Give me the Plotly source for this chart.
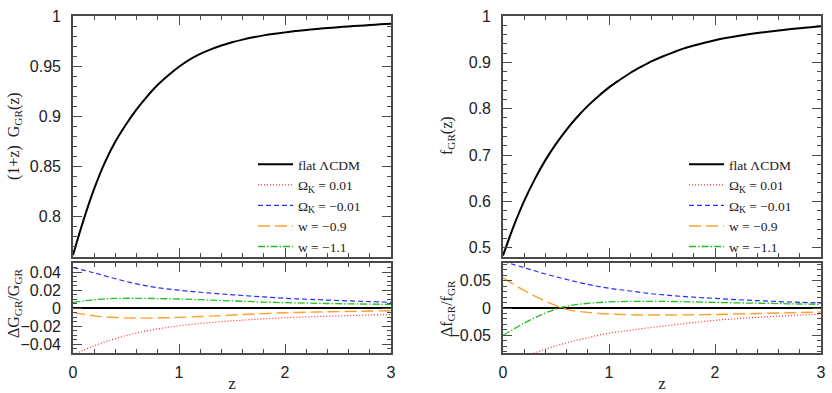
import plotly.graph_objects as go

# ---------------- data ----------------
z_main = [0.0, 0.1, 0.2, 0.3, 0.4, 0.5, 0.6, 0.7, 0.8, 0.9, 1.0, 1.1, 1.2, 1.3, 1.4,
          1.5, 1.6, 1.7, 1.8, 1.9, 2.0, 2.1, 2.2, 2.3, 2.4, 2.5, 2.6, 2.7, 2.8, 2.9, 3.0]
G_flat = [0.762, 0.797, 0.828, 0.854, 0.875, 0.892, 0.907, 0.920, 0.9315, 0.941, 0.9495,
          0.9565, 0.9622, 0.9668, 0.9706, 0.9738, 0.9765, 0.9788, 0.9807, 0.9823, 0.9837,
          0.985, 0.9861, 0.9871, 0.988, 0.9888, 0.9896, 0.9903, 0.991, 0.9917, 0.9924]
f_flat = [0.483, 0.546, 0.601, 0.648, 0.689, 0.724, 0.755, 0.782, 0.806, 0.827, 0.846,
          0.862, 0.877, 0.890, 0.902, 0.912, 0.921, 0.9295, 0.9362, 0.9423, 0.9478,
          0.9525, 0.9565, 0.960, 0.9632, 0.9661, 0.9688, 0.9713, 0.9736, 0.9758, 0.9779]

z_delta = [0.0, 0.2, 0.4, 0.6, 0.8, 1.0, 1.2, 1.4, 1.6, 1.8, 2.0, 2.2, 2.4, 2.6, 2.8, 3.0]
dG_flat = [0.0] * 16
dG_ok_p = [-0.052, -0.0420, -0.0340, -0.0278, -0.0232, -0.0198, -0.0172, -0.0151,
           -0.0135, -0.0121, -0.0108, -0.0099, -0.0091, -0.0084, -0.0078, -0.0072]
dG_ok_m = [0.045, 0.039, 0.0325, 0.0268, 0.0225, 0.0198, 0.0175, 0.0156, 0.0139,
           0.0123, 0.0108, 0.0097, 0.0088, 0.0079, 0.0071, 0.0063]
dG_w09 = [-0.0048, -0.0087, -0.0106, -0.0112, -0.0111, -0.0104, -0.0095, -0.0084,
          -0.0073, -0.0062, -0.0053, -0.0047, -0.0042, -0.0038, -0.0034, -0.0030]
dG_w11 = [0.0060, 0.0093, 0.0106, 0.0108, 0.0105, 0.0100, 0.0092, 0.0083, 0.0075,
          0.0066, 0.0059, 0.0054, 0.0050, 0.0046, 0.0043, 0.0040]

df_flat = [0.0] * 16
df_ok_p = [-0.105, -0.089, -0.075, -0.0635, -0.054, -0.046, -0.0405, -0.0355, -0.031,
           -0.0265, -0.0225, -0.0195, -0.017, -0.0148, -0.0129, -0.0112]
df_ok_m = [0.085, 0.0735, 0.062, 0.052, 0.043, 0.036, 0.031, 0.026, 0.0225, 0.0197,
           0.0175, 0.0153, 0.0134, 0.0117, 0.0103, 0.009]
df_w09 = [0.055, 0.032, 0.0125, -0.0025, -0.008, -0.011, -0.0123, -0.0128, -0.0127,
          -0.0124, -0.0118, -0.0109, -0.0100, -0.0091, -0.0082, -0.0073]
df_w11 = [-0.050, -0.0275, -0.009, 0.0035, 0.0085, 0.011, 0.0121, 0.0122, 0.0118,
          0.0111, 0.0102, 0.0094, 0.0087, 0.0080, 0.0073, 0.0067]

labels = ["flat \u039bCDM", "\u03a9<sub>K</sub> = 0.01", "\u03a9<sub>K</sub> = \u22120.01",
          "w = \u22120.9", "w = \u22121.1"]
colors = ["#000000", "#ff2a2a", "#2a2aff", "#ffa030", "#1fc01f"]
dashes = ["solid", "1px,2px", "5px,3px", "12px,5px", "7px,2px,1.5px,2px"]
widths = [2.0, 1.2, 1.2, 1.4, 1.3]

SERIF = "Liberation Serif"
SANS = "Liberation Sans"

fig = go.Figure()

left_dn = [dG_flat, dG_ok_p, dG_ok_m, dG_w09, dG_w11]
right_dn = [df_flat, df_ok_p, df_ok_m, df_w09, df_w11]

# lower panels (also carry legend entries for the variant models)
for i in range(5):
    fig.add_trace(go.Scatter(
        x=z_delta, y=left_dn[i], mode="lines", name=labels[i],
        line=dict(color=colors[i], width=widths[i], dash=dashes[i], shape="spline"),
        xaxis="x", yaxis="y", legend="legend", showlegend=(i > 0),
        legendrank=1 + i))
    fig.add_trace(go.Scatter(
        x=z_delta, y=right_dn[i], mode="lines", name=labels[i],
        line=dict(color=colors[i], width=widths[i], dash=dashes[i], shape="spline"),
        xaxis="x3", yaxis="y3", legend="legend2", showlegend=(i > 0),
        legendrank=1 + i))

# upper panels: flat LCDM curves
fig.add_trace(go.Scatter(
    x=z_main, y=G_flat, mode="lines", name=labels[0],
    line=dict(color=colors[0], width=widths[0], shape="spline"),
    xaxis="x2", yaxis="y2", legend="legend", legendrank=0))
fig.add_trace(go.Scatter(
    x=z_main, y=f_flat, mode="lines", name=labels[0],
    line=dict(color=colors[0], width=widths[0], shape="spline"),
    xaxis="x4", yaxis="y4", legend="legend2", legendrank=0))

W, H = 832, 393
xl = [73 / W, 391 / W]
xr = [503 / W, 821 / W]
yu = [1 - 257 / H, 1 - 16 / H]
yd = [1 - 353 / H, 1 - 263 / H]

AX = "#4a4a4a"
tickfont = dict(family=SANS, size=16, color="#222")


def xax(domain, anchor, labels_on):
    d = dict(domain=domain, anchor=anchor, range=[0, 3], dtick=1, tick0=0,
             ticks="inside", ticklen=9, tickwidth=1.3, tickcolor=AX,
             mirror="allticks", showline=True, linecolor=AX, linewidth=1.6,
             showgrid=False, zeroline=False, showticklabels=labels_on,
             tickfont=tickfont, ticklabelstandoff=4, automargin=False,
             minor=dict(dtick=0.2, ticks="inside", ticklen=4.5, tickwidth=1,
                        tickcolor=AX, showgrid=False))
    if labels_on:
        d["title"] = dict(text="z", font=dict(family=SERIF, size=17, color="#222"),
                          standoff=6)
    return d


def yax(domain, anchor, rng, dtick, mdtick):
    return dict(domain=domain, anchor=anchor, range=rng, dtick=dtick, tick0=0,
                ticks="inside", ticklen=9, tickwidth=1.3, tickcolor=AX,
                mirror="allticks", showline=True, linecolor=AX, linewidth=1.6,
                showgrid=False, zeroline=False, tickfont=tickfont,
                ticklabelstandoff=7, automargin=False,
                minor=dict(dtick=mdtick, ticks="inside", ticklen=4.5, tickwidth=1,
                           tickcolor=AX, showgrid=False))


fig.update_layout(
    width=W, height=H, autosize=False,
    margin=dict(l=0, r=0, t=0, b=0, pad=0, autoexpand=False),
    paper_bgcolor="white", plot_bgcolor="white",
    xaxis=xax(xl, "y", True),
    yaxis=yax(yd, "x", [-0.05, 0.05], 0.02, 0.005),
    xaxis2=xax(xl, "y2", False),
    yaxis2=yax(yu, "x2", [0.76, 1.0], 0.05, 0.01),
    xaxis3=xax(xr, "y3", True),
    yaxis3=yax(yd, "x3", [-0.082, 0.082], 0.05, 0.01),
    xaxis4=xax(xr, "y4", False),
    yaxis4=yax(yu, "x4", [0.48, 1.0], 0.1, 0.02),
    legend=dict(x=253 / W, y=1 - 149 / H, xanchor="left", yanchor="top",
                bgcolor="rgba(0,0,0,0)", itemwidth=35,
                font=dict(family=SERIF, size=13.5, color="#222")),
    legend2=dict(x=684 / W, y=1 - 149 / H, xanchor="left", yanchor="top",
                 bgcolor="rgba(0,0,0,0)", itemwidth=35,
                 font=dict(family=SERIF, size=13.5, color="#222")),
    showlegend=True,
)

ytitle_font = dict(family=SERIF, size=16, color="#222")
for txt, x, y in [
    ("(1+z)  G<sub>GR</sub>(z)", 14, 136),
    ("\u0394G<sub>GR</sub>/G<sub>GR</sub>", 14, 304),
    ("f<sub>GR</sub>(z)", 447, 136),
    ("\u0394f<sub>GR</sub>/f<sub>GR</sub>", 447, 309),
]:
    fig.add_annotation(text=txt, x=x / W, y=1 - y / H, xref="paper", yref="paper",
                       showarrow=False, textangle=-90, font=ytitle_font,
                       xanchor="center", yanchor="middle")

fig.write_html("out.html",
               config={"displayModeBar": False, "responsive": False},
               post_script="document.body.style.margin='0';"
                           "document.body.style.padding='0';"
                           "document.documentElement.style.overflow='hidden';")
